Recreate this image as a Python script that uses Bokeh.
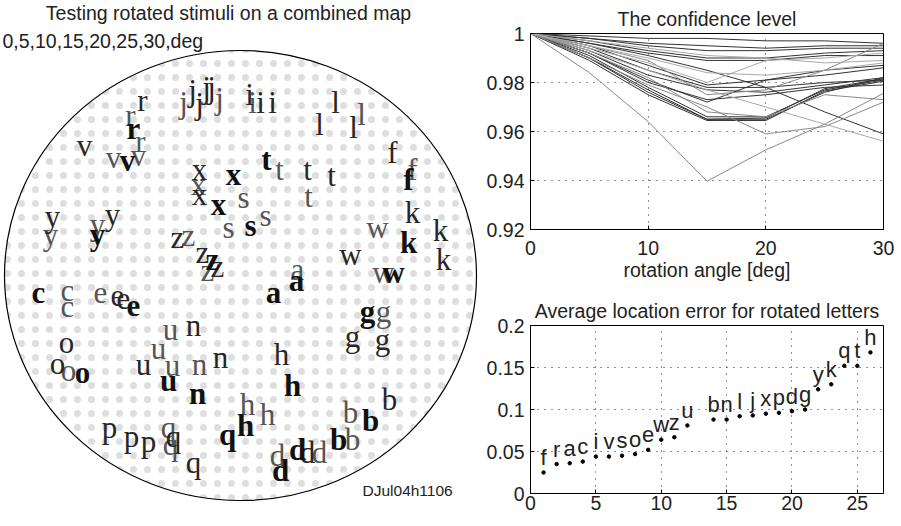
from bokeh.plotting import figure
from bokeh.models import Range1d, FixedTicker, CustomJSTickFormatter, Label, ColumnDataSource
from bokeh.layouts import row, column
from bokeh.embed import file_html
from bokeh.resources import INLINE
from bokeh.core.properties import value

SANS = "Liberation Sans"
SERIF = "Liberation Serif"
TXT = "#222222"

# ---------------- map panel data ----------------
map_title = "Testing rotated stimuli on a combined map"
map_subtitle = "0,5,10,15,20,25,30,deg"
map_id = "DJul04h1106"
map_center = (240, 275)
map_size = (472, 450)

map_letters = (["r"] * 4 + ["v"] * 4 + ["j"] * 6 + ["i"] * 4 + ["l"] * 4 + ["f"] * 3 +
               ["t"] * 5 + ["x"] * 5 + ["s"] * 4 + ["y"] * 5 + ["k"] * 4 + ["w"] * 4 +
               ["z"] * 6 + ["a"] * 3 + ["c"] * 3 + ["e"] * 4 + ["g"] * 4 + ["u"] * 5 +
               ["n"] * 4 + ["o"] * 4 + ["h"] * 5 + ["q"] * 5 + ["p"] * 3 + ["d"] * 5 + ["b"] * 5)
map_x = [142, 130, 133, 140,
         84, 113, 127, 138,
         183, 192, 199, 206, 211, 219,
         249, 252, 260, 272,
         335, 319, 353, 361,
         392, 412, 408,
         266, 279, 307, 331, 308,
         199, 198, 199, 233, 218,
         243, 265, 250, 228,
         52, 50, 97, 97, 112,
         412, 408, 440, 443,
         377, 350, 383, 393,
         177, 188, 202, 212, 207, 217,
         297, 296, 273,
         38, 67, 67,
         100, 117, 123, 133,
         367, 383, 352, 382,
         170, 158, 143, 172, 168,
         193, 199, 220, 197,
         66, 57, 68, 82,
         281, 292, 247, 267, 245,
         168, 173, 170, 193, 227,
         109, 131, 148,
         277, 280, 297, 307, 319,
         350, 370, 389, 338, 352]
map_y = [108, 123, 136, 149,
         153, 165, 168, 163,
         110, 98, 111, 95, 95, 106,
         102, 110, 110, 110,
         110, 132, 135, 122,
         160, 177, 187,
         167, 177, 177, 183, 204,
         177, 192, 202, 182, 212,
         205, 223, 233, 235,
         224, 242, 232, 242, 222,
         220, 250, 238, 267,
         235, 262, 280, 280,
         245, 243, 260, 267, 278, 274,
         277, 288, 300,
         300, 298, 314,
         300, 303, 306, 313,
         319, 319, 344, 347,
         337, 356, 372, 373, 388,
         333, 372, 365, 401,
         350, 371, 378, 380,
         362, 393, 412, 422, 433,
         435, 444, 452, 470, 442,
         435, 444, 449,
         463, 478, 457, 460, 460,
         420, 428, 407, 447, 447]
map_style = ["n", "g", "b", "g",
             "n", "g", "b", "g",
             "g", "n", "n", "n", "n", "g",
             "n", "g", "n", "n",
             "n", "n", "n", "g",
             "n", "g", "b",
             "b", "g", "n", "n", "g",
             "n", "g", "n", "b", "b",
             "g", "g", "b", "g",
             "n", "g", "g", "b", "n",
             "n", "b", "n", "n",
             "g", "n", "g", "b",
             "n", "g", "n", "b", "g", "n",
             "g", "b", "b",
             "b", "g", "g",
             "g", "n", "n", "b",
             "b", "g", "n", "n",
             "g", "g", "n", "g", "b",
             "n", "g", "n", "b",
             "n", "n", "g", "b",
             "n", "b", "g", "g", "b",
             "g", "n", "g", "n", "b",
             "n", "n", "n",
             "g", "b", "b", "n", "g",
             "g", "b", "n", "b", "g"]

# ---------------- confidence panel data ----------------
conf_title = "The confidence level"
conf_xlabel = "rotation angle [deg]"
conf_angles = [0, 5, 10, 15, 20, 25, 30]
conf_levels = [
    [1, 0.999, 0.998, 0.998, 0.997, 0.997, 0.996],
    [1, 0.998, 0.996, 0.995, 0.994, 0.995, 0.995],
    [1, 0.998, 0.995, 0.993, 0.993, 0.994, 0.994],
    [1, 0.997, 0.993, 0.990, 0.990, 0.992, 0.993],
    [1, 0.996, 0.992, 0.989, 0.989, 0.991, 0.991],
    [1, 0.996, 0.991, 0.985, 0.978, 0.968, 0.959],
    [1, 0.995, 0.987, 0.979, 0.981, 0.983, 0.986],
    [1, 0.994, 0.985, 0.978, 0.978, 0.980, 0.981],
    [1, 0.993, 0.983, 0.977, 0.976, 0.979, 0.982],
    [1, 0.992, 0.980, 0.973, 0.975, 0.978, 0.979],
    [1, 0.991, 0.978, 0.966, 0.966, 0.977, 0.981],
    [1, 0.990, 0.977, 0.965, 0.9655, 0.9775, 0.9815],
    [1, 0.990, 0.976, 0.965, 0.965, 0.976, 0.982],
    [1, 0.989, 0.975, 0.9645, 0.9645, 0.9765, 0.9805],
    [1, 0.992, 0.981, 0.972, 0.981, 0.985, 0.987],
    [1, 0.984, 0.964, 0.9397, 0.9525, 0.963, 0.9756],
    [1, 0.990, 0.979, 0.970, 0.959, 0.962, 0.972],
    [1, 0.993, 0.985, 0.977, 0.970, 0.963, 0.956],
    [1, 0.995, 0.989, 0.975, 0.977, 0.985, 0.996],
    [1, 0.994, 0.988, 0.980, 0.989, 0.990, 0.992],
    [1, 0.997, 0.994, 0.991, 0.990, 0.988, 0.989],
    [1, 0.992, 0.982, 0.968, 0.966, 0.975, 0.973],
    [1, 0.995, 0.990, 0.984, 0.983, 0.985, 0.988],
]
conf_shades = ["#333333"] * 15 + ["#8a8a8a", "#8a8a8a", "#a8a8a8", "#8a8a8a",
                                  "#a8a8a8", "#a8a8a8", "#8a8a8a", "#a8a8a8"]
conf_xticks = [0, 10, 20, 30]
conf_yticks = [0.92, 0.94, 0.96, 0.98, 1]

# ---------------- location error panel data ----------------
err_title = "Average location error for rotated letters"
err_letters = ["f", "r", "a", "c", "i", "v", "s", "o", "e", "w", "z", "u",
               "b", "n", "l", "j", "x", "p", "d", "g", "y", "k", "q", "t", "h"]
err_rank = [1, 2, 3, 4, 5, 6, 7, 8, 9, 10, 11, 12,
            14, 15, 16, 17, 18, 19, 20, 21, 22, 23, 24, 25, 26]
err_values = [0.025, 0.035, 0.036, 0.038, 0.044, 0.044, 0.045, 0.047, 0.052, 0.064, 0.067, 0.081,
              0.088, 0.088, 0.092, 0.093, 0.095, 0.096, 0.098, 0.100, 0.124, 0.130, 0.152, 0.152, 0.168]
err_label_offset = 0.0095
err_xticks = [0, 5, 10, 15, 20, 25]
err_yticks = [0, 0.05, 0.1, 0.15, 0.2]

FS = "19.5px"

# ================= left: map =================
left = figure(width=478, height=526, x_range=Range1d(0, 478), y_range=Range1d(526, 0),
              x_axis_type=None, y_axis_type=None, toolbar_location=None,
              output_backend="svg", min_border=0)
left.outline_line_color = None
left.xgrid.visible = False
left.ygrid.visible = False

left.ellipse(x=[map_center[0]], y=[map_center[1]], width=[map_size[0]], height=[map_size[1]],
             fill_color="white", line_color="black", line_width=1.2,
             hatch_pattern="dot", hatch_color="#dedede", hatch_scale=14, hatch_weight=1)

styles = {
    "g": dict(color="#555555", weight="normal"),
    "n": dict(color="#262626", weight="normal"),
    "b": dict(color="#111111", weight="bold"),
}
for key in ["g", "n", "b"]:
    idx = [i for i, s in enumerate(map_style) if s == key]
    src = ColumnDataSource(dict(x=[map_x[i] for i in idx], y=[map_y[i] for i in idx],
                                t=[map_letters[i] for i in idx]))
    left.text(x="x", y="y", text="t", source=src, text_font=value(SERIF),
              text_font_size=value("31px"), text_font_style=styles[key]["weight"],
              text_color=styles[key]["color"], text_align="center", text_baseline="alphabetic",
              y_offset=-8)

left.add_layout(Label(x=228, y=514, x_units="screen", y_units="screen", text=map_title,
                      text_font=SANS, text_font_size=FS, text_color=TXT,
                      text_align="center", text_baseline="middle"))
left.add_layout(Label(x=2, y=486, x_units="screen", y_units="screen", text=map_subtitle,
                      text_font=SANS, text_font_size=FS, text_color=TXT,
                      text_align="left", text_baseline="middle"))
left.add_layout(Label(x=362, y=36, x_units="screen", y_units="screen", text=map_id,
                      text_font=SANS, text_font_size="15.5px", text_color=TXT,
                      text_align="left", text_baseline="middle"))

fmt = CustomJSTickFormatter(code="return tick.toString();")


def style_axes(p, xticks, yticks, xstand, ystand):
    p.outline_line_color = "black"
    p.outline_line_width = 1
    for ax in (p.xaxis[0], p.yaxis[0]):
        ax.major_tick_in = 4
        ax.major_tick_out = 0
        ax.minor_tick_line_color = None
        ax.axis_line_color = "black"
        ax.major_tick_line_color = "black"
        ax.major_label_text_font = SANS
        ax.major_label_text_font_size = FS
        ax.major_label_text_color = TXT
        ax.formatter = fmt
    p.xaxis[0].ticker = FixedTicker(ticks=xticks)
    p.yaxis[0].ticker = FixedTicker(ticks=yticks)
    p.xaxis[0].major_label_standoff = xstand
    p.yaxis[0].major_label_standoff = ystand
    for g in (p.xgrid[0], p.ygrid[0]):
        g.grid_line_color = "#222222"
        g.grid_line_dash = "1 6"
        g.grid_line_width = 1
    p.title.text_font = SANS
    p.title.text_font_size = FS
    p.title.text_font_style = "normal"
    p.title.text_color = TXT
    p.title.align = "center"


# ================= top right: confidence =================
top = figure(width=420, height=285, x_range=Range1d(0, 30), y_range=Range1d(0.92, 1),
             toolbar_location=None, output_backend="svg", title=conf_title,
             min_border_left=52, min_border_right=15, min_border_top=33, min_border_bottom=56)
style_axes(top, conf_xticks, conf_yticks, 11, 6)
top.title.standoff = 8
top.xaxis[0].axis_label = conf_xlabel
top.xaxis[0].axis_label_text_font = SANS
top.xaxis[0].axis_label_text_font_size = FS
top.xaxis[0].axis_label_text_font_style = "normal"
top.xaxis[0].axis_label_text_color = TXT
top.xaxis[0].axis_label_standoff = 1
for lv, shade in zip(conf_levels, conf_shades):
    top.line(conf_angles, lv, line_color=shade, line_width=1)

# ================= bottom right: location error =================
bot = figure(width=420, height=241, x_range=Range1d(0, 27), y_range=Range1d(0, 0.2),
             toolbar_location=None, output_backend="svg", title=err_title,
             min_border_left=52, min_border_right=15, min_border_top=40, min_border_bottom=33)
style_axes(bot, err_xticks, err_yticks, 2, 6)
bot.title.standoff = 8
esrc = ColumnDataSource(dict(x=err_rank, y=err_values, t=err_letters,
                             ty=[v + err_label_offset for v in err_values]))
bot.scatter(x="x", y="y", source=esrc, size=3.5, color="black")
bot.text(x="x", y="ty", text="t", source=esrc, text_font=value(SANS),
         text_font_size=value("22px"), text_color=TXT, text_align="center",
         text_baseline="alphabetic", y_offset=-7)

layout = row(left, column(top, bot))
open("out.html", "w").write(file_html(layout, INLINE))
